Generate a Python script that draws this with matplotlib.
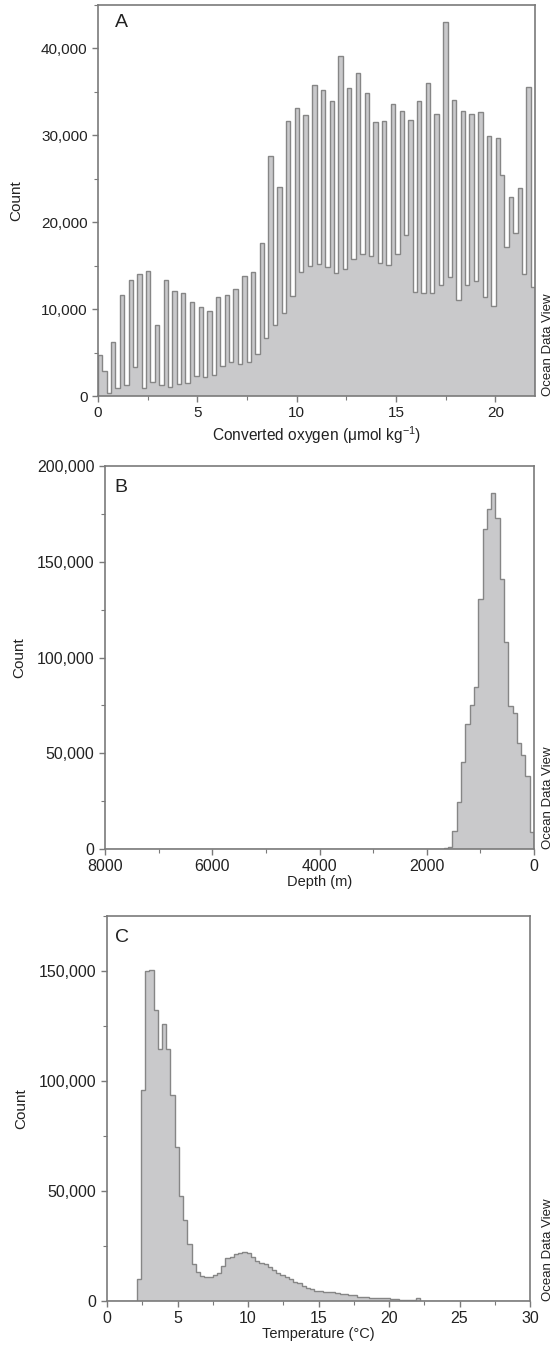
import numpy as np
import matplotlib
matplotlib.use('Agg')
import matplotlib.pyplot as plt
from matplotlib.ticker import FuncFormatter, MultipleLocator

plt.rcParams['font.family'] = ['Liberation Sans', 'DejaVu Sans']
plt.rcParams['mathtext.fontset'] = 'custom'
plt.rcParams['mathtext.rm'] = 'Liberation Sans'
plt.rcParams['mathtext.default'] = 'rm'

# --- dati (conteggi in migliaia) ---
# A: ossigeno convertito, 100 classi da 0 a 22
oxy_edges = np.linspace(0, 22, 101)
oxy_counts = [4.7, 2.9, 0.3, 6.2, 0.9, 11.6, 1.3, 13.3, 3.3, 14.0,
              0.9, 14.4, 1.6, 8.2, 1.3, 13.3, 1.0, 12.1, 1.4, 11.9,
              1.5, 10.8, 2.3, 10.3, 2.2, 9.8, 2.4, 11.4, 3.4, 11.6,
              3.9, 12.3, 3.7, 13.8, 3.9, 14.3, 4.8, 17.6, 6.7, 27.6,
              8.2, 24.1, 9.5, 31.7, 11.5, 33.2, 14.3, 32.3, 15.0, 35.8,
              15.2, 35.2, 14.8, 34.0, 14.2, 39.1, 14.6, 35.4, 15.8, 37.2,
              16.3, 34.9, 16.1, 31.5, 15.3, 31.7, 15.1, 33.6, 16.3, 32.8,
              18.5, 31.8, 12.0, 34.0, 11.9, 36.0, 11.8, 32.4, 12.8, 43.0,
              13.7, 34.1, 11.1, 32.8, 12.8, 32.4, 13.2, 32.7, 11.4, 29.9,
              10.4, 29.7, 25.4, 17.1, 22.9, 18.8, 23.9, 14.0, 35.6, 12.5]

# B: profondita', classi da 80 m partendo dalla superficie
depth_edges = np.linspace(0, 8000, 101)
depth_counts = [9.0, 38.0, 49.1, 55.5, 70.9, 74.7, 108.3, 140.9, 172.8, 185.8,
                177.6, 167.2, 130.4, 84.8, 75.2, 65.3, 45.3, 24.7, 9.6, 0.9,
                0.3, 0.2, 0.1, 0.1] + [0.0] * 76

# C: temperatura, 100 classi da 0 a 30
temp_edges = np.linspace(0, 30, 101)
temp_counts = [0, 0, 0, 0, 0, 0, 0, 9.8, 95.9, 150.0,
               150.6, 132.2, 114.5, 125.9, 114.5, 93.6, 69.8, 47.8, 37.0, 26.1,
               16.6, 13.1, 11.3, 10.8, 10.8, 11.6, 12.8, 15.8, 19.6, 20.1,
               21.2, 22.0, 22.3, 22.0, 20.1, 18.4, 17.4, 16.6, 15.4, 14.1,
               12.8, 11.8, 10.8, 9.8, 8.8, 8.0, 6.8, 5.7, 5.3, 4.7,
               4.4, 4.2, 4.2, 4.2, 3.5, 3.0, 3.0, 2.6, 2.6, 2.0,
               2.0, 1.7, 1.5, 1.5, 1.4, 1.2, 1.2, 0.9, 0.8, 0.6,
               0.5, 0.5, 0.5, 1.5] + [0.0] * 26

fill_col = '#c9c9cb'
edge_col = '#868686'
frame_col = '#7a7a7a'
text_col = '#222222'
W, H = 555, 1351

fig = plt.figure(figsize=(W / 100, H / 100), dpi=100)

def axes_px(left, top, right, bottom):
    return fig.add_axes([left / W, 1 - bottom / H, (right - left) / W, (bottom - top) / H])

thousands = FuncFormatter(lambda v, p: f'{int(round(v)):,}')

def style(ax, letter, letter_xy, xlabel, xlab_y, xlab_size, ylab_x, tsize):
    for s in ax.spines.values():
        s.set_color(frame_col)
        s.set_linewidth(1.2)
    ax.tick_params(which='both', direction='out', colors=frame_col,
                   labelcolor=text_col, labelsize=tsize, top=False, right=False)
    ax.tick_params(which='major', length=4, width=1)
    ax.tick_params(which='minor', length=3, width=0.8)
    ax.yaxis.set_major_formatter(thousands)
    ax.text(letter_xy[0], letter_xy[1], letter, transform=ax.transAxes,
            fontsize=14, color=text_col, va='top', ha='left')
    ax.set_xlabel(xlabel, fontsize=xlab_size, color=text_col)
    ax.xaxis.set_label_coords(0.5, xlab_y)
    ax.set_ylabel('Count', fontsize=11, color=text_col)
    ax.yaxis.set_label_coords(ylab_x, 0.5)
    pos = ax.get_position()
    fig.text(548 / W, pos.y0, 'Ocean Data View', rotation=90, fontsize=9.5,
             color=text_col, ha='center', va='bottom')

def draw_hist(ax, counts, edges):
    vals = np.array(counts) * 1000
    ax.stairs(vals, edges, fill=True, color=fill_col, lw=0)
    ax.stairs(vals, edges, baseline=0, fill=False, color=edge_col, lw=1.0)

# pannello A
axA = axes_px(98, 5, 535, 396)
draw_hist(axA, oxy_counts, oxy_edges)
axA.set_xlim(0, 22)
axA.set_ylim(0, 45000)
axA.xaxis.set_major_locator(MultipleLocator(5))
axA.xaxis.set_minor_locator(MultipleLocator(2.5))
axA.yaxis.set_major_locator(MultipleLocator(10000))
axA.yaxis.set_minor_locator(MultipleLocator(5000))
style(axA, 'A', (0.038, 0.978), r'Converted oxygen (μmol kg$^{-1}$)', -0.072, 11.2, -0.172, 11)

# pannello B
axB = axes_px(105, 466, 534, 849)
draw_hist(axB, depth_counts, depth_edges)
axB.set_xlim(8000, 0)
axB.set_ylim(0, 200000)
axB.xaxis.set_major_locator(MultipleLocator(2000))
axB.xaxis.set_minor_locator(MultipleLocator(1000))
axB.yaxis.set_major_locator(MultipleLocator(50000))
axB.yaxis.set_minor_locator(MultipleLocator(25000))
style(axB, 'B', (0.022, 0.965), 'Depth (m)', -0.067, 10.5, -0.184, 11.5)

# pannello C
axC = axes_px(107, 916, 530, 1301)
draw_hist(axC, temp_counts, temp_edges)
axC.set_xlim(0, 30)
axC.set_ylim(0, 175000)
axC.xaxis.set_major_locator(MultipleLocator(5))
axC.xaxis.set_minor_locator(MultipleLocator(2.5))
axC.yaxis.set_major_locator(MultipleLocator(50000))
axC.yaxis.set_minor_locator(MultipleLocator(25000))
style(axC, 'C', (0.02, 0.965), 'Temperature (°C)', -0.068, 10.5, -0.187, 11.5)

fig.savefig('out.png', dpi=100)
